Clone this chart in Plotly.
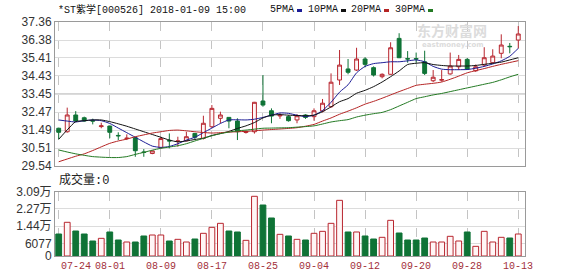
import plotly.graph_objects as go

# ---------------- data ----------------
dates = [
    "2017-07-24", "2017-07-25", "2017-07-26", "2017-07-27", "2017-07-28", "2017-07-31",
    "2017-08-01", "2017-08-02", "2017-08-03", "2017-08-04", "2017-08-07", "2017-08-08",
    "2017-08-09", "2017-08-10", "2017-08-11", "2017-08-14", "2017-08-15", "2017-08-16",
    "2017-08-17", "2017-08-18", "2017-08-21", "2017-08-22", "2017-08-23", "2017-08-24",
    "2017-08-25", "2017-08-28", "2017-08-29", "2017-08-30", "2017-08-31", "2017-09-01",
    "2017-09-04", "2017-09-05", "2017-09-06", "2017-09-07", "2017-09-08", "2017-09-11",
    "2017-09-12", "2017-09-13", "2017-09-14", "2017-09-15", "2017-09-18", "2017-09-19",
    "2017-09-20", "2017-09-21", "2017-09-22", "2017-09-25", "2017-09-26", "2017-09-27",
    "2017-09-28", "2017-09-29", "2017-10-09", "2017-10-10", "2017-10-11", "2017-10-12",
    "2017-10-13",
]
open_ = [31.59, 31.40, 32.31, 32.16, 32.02, 31.68, 31.71, 31.20, 31.03, 31.08, 30.30, 30.22,
         30.53, 30.93, 30.88, 30.91, 31.31, 31.04, 31.67, 32.13, 32.18, 31.98, 31.36, 31.40,
         33.07, 32.54, 32.26, 32.22, 32.04, 32.31, 32.22, 32.53, 32.76, 34.21, 34.81, 34.75,
         35.35, 34.88, 34.39, 34.52, 36.47, 35.37, 35.37, 35.20, 34.17, 34.20, 34.54, 34.93,
         35.33, 34.71, 35.02, 35.15, 35.66, 36.04, 36.38]
high = [31.62, 32.71, 32.52, 32.22, 32.11, 31.89, 31.73, 31.37, 31.26, 31.13, 30.46, 30.38,
        31.13, 31.31, 31.13, 31.40, 31.33, 32.27, 32.85, 32.49, 32.20, 32.13, 31.45, 33.02,
        34.48, 32.67, 32.40, 32.30, 32.35, 32.35, 32.67, 33.18, 34.57, 35.84, 35.35, 35.96,
        35.45, 34.95, 34.57, 36.26, 36.75, 35.78, 35.70, 35.80, 34.75, 34.75, 35.70, 35.57,
        35.40, 35.05, 35.99, 35.88, 36.69, 36.22, 37.14]
low = [30.99, 31.35, 31.95, 31.95, 31.80, 31.59, 31.05, 30.95, 30.95, 30.04, 30.04, 30.18,
       30.50, 30.50, 30.59, 30.88, 31.00, 30.98, 31.60, 31.86, 31.59, 30.95, 31.30, 31.30,
       32.76, 31.86, 32.10, 31.95, 31.86, 32.10, 32.00, 32.45, 32.70, 33.94, 34.52, 34.70,
       34.90, 34.40, 34.30, 34.50, 35.40, 35.15, 35.15, 34.48, 34.10, 34.12, 34.50, 34.75,
       34.75, 34.65, 34.93, 35.10, 35.39, 35.66, 35.93]
close = [31.37, 32.31, 31.98, 31.98, 31.98, 31.72, 31.37, 31.18, 31.05, 30.37, 30.28, 30.36,
         31.03, 30.90, 30.90, 31.13, 31.10, 31.86, 32.67, 32.31, 31.98, 31.40, 31.42, 33.00,
         32.85, 32.25, 32.31, 32.00, 32.27, 32.18, 32.54, 32.95, 34.09, 35.02, 34.63, 35.35,
         35.06, 34.48, 34.52, 35.96, 35.42, 35.35, 35.35, 34.57, 34.36, 34.23, 34.97, 35.33,
         34.79, 34.93, 35.42, 35.51, 36.11, 36.02, 36.71]
volume = [10620, 16270, 12070, 10620, 7240, 8530, 11590, 7720, 6760, 6760, 9660, 10140,
          10140, 7240, 8050, 6760, 8210, 10950, 13840, 15770, 12070, 11590, 7560, 28820,
          24620, 18350, 10460, 9660, 8050, 7720, 10950, 11910, 15770, 26880, 11590, 11590,
          9660, 8210, 9020, 17220, 11100, 7720, 7720, 8690, 6760, 6760, 9500, 7240,
          11590, 4670, 11910, 6760, 9020, 8690, 10620]
ma5 = [32.04, 31.98, 31.93, 32.00, 32.04, 32.00, 31.85, 31.60, 31.35, 31.10, 30.85, 30.62,
       30.55, 30.60, 30.75, 30.95, 31.10, 31.35, 31.60, 31.85, 32.04, 32.05, 32.04, 32.08,
       32.18, 32.30, 32.42, 32.40, 32.30, 32.22, 32.30, 32.55, 33.00, 33.55, 33.95, 34.60,
       34.95, 35.10, 35.15, 35.20, 35.20, 35.25, 35.30, 35.20, 34.95, 34.80, 34.77, 34.77,
       34.78, 34.85, 34.95, 35.08, 35.25, 35.50, 35.93]
ma10 = [30.99, 31.50, 31.95, 32.00, 32.04, 32.04, 31.95, 31.83, 31.70, 31.55, 31.40, 31.25,
        31.10, 30.95, 30.85, 30.90, 30.98, 31.05, 31.20, 31.30, 31.42, 31.58, 31.72, 31.90,
        32.15, 32.30, 32.33, 32.30, 32.28, 32.27, 32.30, 32.49, 32.75, 33.03, 33.20, 33.49,
        33.65, 33.85, 34.10, 34.39, 34.70, 35.05, 35.12, 35.15, 35.05, 35.00, 34.97, 34.97,
        34.97, 35.00, 35.06, 35.12, 35.18, 35.30, 35.42]
ma20 = [29.77, 29.92, 30.07, 30.20, 30.38, 30.58, 30.77, 30.90, 31.00, 31.13, 31.23, 31.33,
        31.40, 31.47, 31.49, 31.45, 31.40, 31.36, 31.33, 31.35, 31.38, 31.40, 31.42, 31.45,
        31.49, 31.52, 31.55, 31.58, 31.62, 31.70, 31.80, 31.98, 32.15, 32.35, 32.52, 32.70,
        32.90, 33.05, 33.22, 33.40, 33.58, 33.75, 33.92, 33.98, 34.03, 34.10, 34.25, 34.42,
        34.60, 34.72, 34.83, 34.95, 35.06, 35.16, 35.26]
ma30 = [30.41, 30.30, 30.20, 30.12, 30.05, 30.02, 30.00, 30.00, 30.05, 30.17, 30.28, 30.40,
        30.50, 30.57, 30.64, 30.75, 30.90, 31.04, 31.18, 31.30, 31.38, 31.45, 31.49, 31.54,
        31.59, 31.60, 31.61, 31.62, 31.65, 31.68, 31.72, 31.82, 31.93, 32.00, 32.06, 32.20,
        32.30, 32.38, 32.45, 32.60, 32.80, 33.00, 33.20, 33.30, 33.40, 33.48, 33.58, 33.68,
        33.78, 33.88, 33.98, 34.08, 34.22, 34.38, 34.52]

price_ticks = [29.54, 30.51, 31.49, 32.47, 33.45, 34.43, 35.41, 36.38, 37.36]
vol_ticks = [0, 6077, 14400, 22700, 30900]
vol_tick_text = ["0", "6077", "1.44万", "2.27万", "3.09万"]
tick_dates = ["2017-07-24", "2017-08-01", "2017-08-09", "2017-08-17", "2017-08-25",
              "2017-09-04", "2017-09-12", "2017-09-20", "2017-09-28", "2017-10-13"]
tick_labels = ["07-24", "08-01", "08-09", "08-17", "08-25",
               "09-04", "09-12", "09-20", "09-28", "10-13"]
title_text = "*ST紫学[000526] 2018-01-09 15:00"
legend_names = ["5PMA", "10PMA", "20PMA", "30PMA"]
vol_label = "成交量:0"

# ---------------- style ----------------
RED = "#b8262f"
GREEN = "#0f7336"
MA_COLORS = ["#1c1c96", "#111111", "#b52424", "#237a23"]
W, H = 578, 276
ML, MR, MT, MB = 55, 53, 22, 20
PW, PH = W - ML - MR, H - MT - MB


def px(x):
    return (x - ML) / PW


def py(y):
    return (H - MB - y) / PH


up = [c >= o for o, c in zip(open_, close)]

fig = go.Figure()
fig.add_trace(go.Candlestick(
    x=dates, open=open_, high=high, low=low, close=close,
    increasing=dict(line=dict(color=RED, width=1), fillcolor="#fff6f6"),
    decreasing=dict(line=dict(color=GREEN, width=1), fillcolor=GREEN),
    whiskerwidth=0, hoverinfo="skip", xaxis="x", yaxis="y",
))
for name, vals, col in zip(legend_names, [ma5, ma10, ma20, ma30], MA_COLORS):
    fig.add_trace(go.Scatter(x=dates, y=vals, mode="lines", name=name,
                             line=dict(color=col, width=1, shape="spline", smoothing=0.6),
                             hoverinfo="skip", xaxis="x", yaxis="y"))

fig.add_trace(go.Bar(
    x=dates, y=volume, width=0.68,
    marker=dict(color=["#fff6f6" if u else GREEN for u in up],
                line=dict(color=[RED if u else GREEN for u in up], width=1)),
    hoverinfo="skip", xaxis="x2", yaxis="y2",
))

axis_common = dict(showline=True, linecolor="#9a9a9a", linewidth=1, mirror=True,
                   zeroline=False, ticks="")
xgrid = dict(type="category", range=[-0.435, 54.79], tickvals=tick_dates,
             showticklabels=False, showgrid=True, gridcolor="#c4c4c4",
             griddash="dash", gridwidth=1)

fig.update_layout(
    width=W, height=H,
    margin=dict(l=ML, r=MR, t=MT, b=MB),
    paper_bgcolor="white", plot_bgcolor="white",
    showlegend=False, boxgap=0.35,
    xaxis=dict(**axis_common, **xgrid, anchor="y", domain=[0, 1],
               rangeslider=dict(visible=False)),
    xaxis2=dict(**axis_common, **xgrid, anchor="y2", domain=[0, 1], matches="x"),
    yaxis=dict(**axis_common, domain=[py(166), 1], range=[29.54, 37.36],
               tickvals=price_ticks, ticktext=[f"{v:.2f}" for v in price_ticks],
               showgrid=True, gridcolor="#dcdcdc",
               tickfont=dict(family="Liberation Sans, Arial", size=12, color="#333333")),
    yaxis2=dict(**axis_common, domain=[0, py(192)], range=[0, 30900],
                tickvals=vol_ticks, ticktext=vol_tick_text,
                showgrid=True, gridcolor="#dcdcdc",
                tickfont=dict(family="Liberation Sans, Noto Sans CJK SC", size=12,
                              color="#333333")),
    font=dict(family="Liberation Mono, Noto Sans CJK SC", color="#222222"),
)

# darker middle line of price panel
fig.add_shape(type="line", xref="paper", yref="y", x0=0, x1=1,
              y0=price_ticks[4], y1=price_ticks[4], line=dict(color="#a8a8a8", width=1),
              layer="below")

ann = []
# watermark
ann.append(dict(x=px(489), y=py(30), xref="paper", yref="paper", text="<b>东方财富网</b>",
                yanchor="middle", showarrow=False,
                font=dict(family="Noto Sans CJK SC", size=14, color="#dcdcdc")))
ann.append(dict(x=px(486), y=py(45), xref="paper", yref="paper", text="<b>eastmoney.com</b>",
                yanchor="middle", showarrow=False,
                font=dict(family="DejaVu Sans", size=7, color="#dcdcdc")))
# header
ann.append(dict(x=px(56), y=py(10), xref="paper", yref="paper", text=title_text,
                xanchor="left", yanchor="middle", showarrow=False,
                font=dict(family="Liberation Mono, Noto Sans CJK SC", size=10, color="#111111")))
leg_x = [268, 306, 349, 393]
for name, lx, col in zip(legend_names, leg_x, MA_COLORS):
    ann.append(dict(x=px(lx), y=py(10), xref="paper", yref="paper", text=name,
                    xanchor="left", yanchor="middle", showarrow=False,
                    font=dict(family="Liberation Mono", size=10, color="#111111")))
    w = 6 * len(name) + 5
    fig.add_shape(type="rect", xref="paper", yref="paper",
                  x0=px(lx + w), x1=px(lx + w + 5), y0=py(12), y1=py(9),
                  fillcolor=col, line=dict(width=0))
# volume label
ann.append(dict(x=px(57), y=py(180), xref="paper", yref="paper", text=vol_label,
                xanchor="left", yanchor="middle", showarrow=False,
                font=dict(family="Liberation Mono, Noto Sans CJK SC", size=12, color="#222222")))
# x tick labels
for i, (d, lab) in enumerate(zip(tick_dates, tick_labels)):
    ann.append(dict(x=dates.index(d), y=py(266), xref="x2", yref="paper", text=lab,
                    xanchor="left" if i == 0 else "center", yanchor="middle",
                    showarrow=False,
                    font=dict(family="Liberation Mono", size=10, color="#a3303a")))
fig.update_layout(annotations=ann)

fig.write_html("out.html")
